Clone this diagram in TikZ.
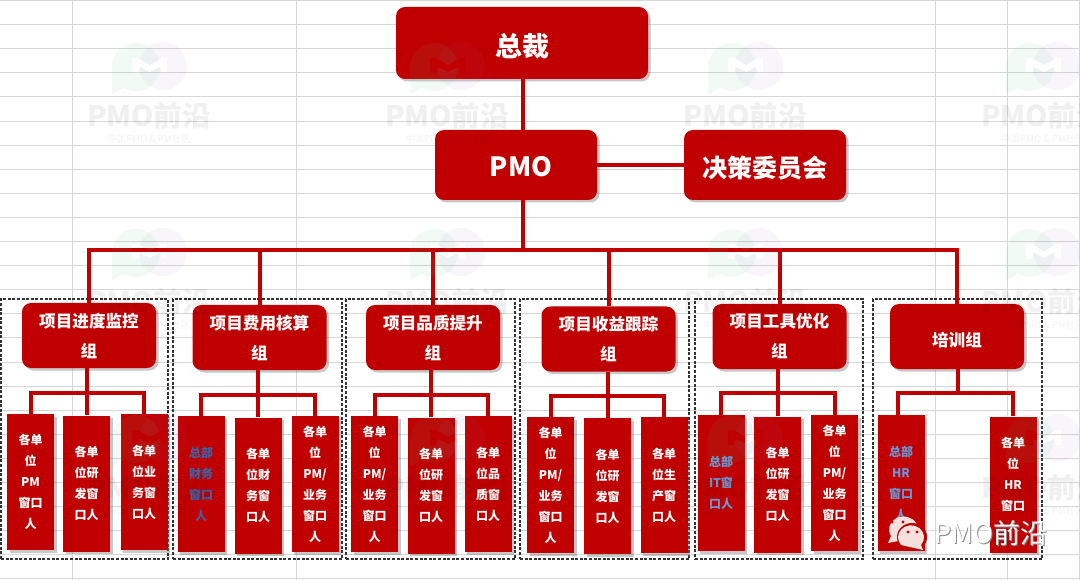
\documentclass[tikz,border=0pt]{standalone}
\usepackage{fontspec}
\setmainfont{Noto Sans CJK SC}
\usepackage{tikz}
\usetikzlibrary{shadows}
\definecolor{orgred}{HTML}{C00000}
\definecolor{hqdark}{HTML}{3F62A6}
\definecolor{hqlight}{HTML}{6C97D6}
\definecolor{sheetline}{HTML}{D6D6D6}
\definecolor{wmgreen}{HTML}{5AC88C}
\definecolor{wmlilac}{HTML}{9664C8}
\definecolor{chatpink}{HTML}{F6E0DE}

\begin{document}
\begin{tikzpicture}[x=1pt, y=-1pt,
    sheet/.style={sheetline, line width=0.9pt},
    link/.style={orgred, line width=4pt},
    redbox/.style={fill=orgred, text=white, inner sep=0pt, align=center, font=\bfseries,
      drop shadow={shadow xshift=2.5pt, shadow yshift=-2.5pt, opacity=0.4, fill=black!55}},
    topbox/.style={redbox, rounded corners=9pt, font=\fontsize{25}{30}\selectfont\bfseries},
    groupnode/.style={redbox, rounded corners=9pt, minimum width=134pt, minimum height=65pt,
      font=\fontsize{16.6}{30}\selectfont\bfseries, execute at begin node={\rule{0pt}{22pt}}},
    leaf/.style={redbox, minimum width=47pt, minimum height=136pt,
      font=\fontsize{12}{21}\selectfont\bfseries, execute at begin node={\rule{0pt}{13pt}}},
    leafdark/.style={leaf, text=hqdark},
    leaflight/.style={leaf, text=hqlight},
    groupframe/.style={draw=black!80, dashed, line width=1.1pt, dash pattern=on 3pt off 1.6pt,
      inner sep=0pt, minimum height=260pt},
    wmtitle/.style={black, opacity=0.06, inner sep=0pt, font=\fontsize{28.5}{30}\selectfont\bfseries},
    wmsub/.style={black, opacity=0.05, inner sep=0pt, font=\fontsize{9.5}{11}\selectfont},
    accountmark/.style={anchor=west, inner sep=0pt, font=\fontsize{27}{30}\selectfont},
    wmlogo/.pic={
      \begin{scope}[even odd rule]
        % the M stays open
        \clip (-45,-35) rectangle (45,35)
          (-18,-10) -- (-12,-10) -- (0,-3) -- (12,-10) -- (17,-10) -- (17,5) -- (12,5)
          -- (10,-1) -- (0,4) -- (-10,-1) -- (-12,5) -- (-18,5) -- cycle;
        \fill[wmgreen, opacity=0.08] (-38,26) -- (-38,-1) arc[start angle=180, end angle=480, radius=24] -- cycle;
        \fill[wmlilac, opacity=0.06] (13,-2) circle[radius=24];
      \end{scope}}]
  \useasboundingbox (0,0) rectangle (1080,580);
  \clip (0,0) rectangle (1080,580);
  \fill[white] (0,0) rectangle (1080,580);
  % spreadsheet behind the chart
  \foreach \k in {0,...,24}
    \draw[sheet] (0,{0.5+24.1*\k}) -- (1080,{0.5+24.1*\k});
  \foreach \x in {72,296,935,1007,1079.5}
    \draw[sheet] (\x,0) -- (\x,580);
  % dashed frames
  \foreach \j/\x/\w in {1/84.5/167, 2/257.5/169, 3/430.5/169, 4/604.5/169, 5/779/168, 6/957.5/169}
    \node[groupframe, minimum width=\w pt] (frame\j) at (\x,429) {};
  % top of the chart
  \node[topbox, minimum width=252pt, minimum height=72pt, font=\fontsize{27}{30}\selectfont\bfseries] (ceo) at (522,43) {\rule{0pt}{29pt}总裁};
  \node[topbox, minimum width=162pt, minimum height=70pt, font=\fontsize{26.5}{30}\selectfont\bfseries] (pmo) at (516,165) {\hspace*{10pt}\rule{0pt}{23pt}PMO};
  \node[topbox, minimum width=162pt, minimum height=70pt] (board) at (765,165) {\rule{0pt}{27pt}决策委员会};
  \coordinate (bus) at (522.5,250);
  \draw[link] (ceo.south -| bus) -- (pmo.north -| bus);
  \draw[link] (pmo.east) -- (board.west);
  % six groups
  \foreach \j/\x/\y/\txt in {1/89/335.5/{项目进度监控\\组}, 2/259.5/337.5/{项目费用核算\\组},
      3/433/337.5/{项目品质提升\\组}, 4/608.5/339/{项目收益跟踪\\组},
      5/779.5/336.5/{项目工具优化\\组}, 6/957/336.5/{培训组}} {
    \node[groupnode] (g\j) at (\x,\y) {\txt};
    \draw[link] (pmo.south -| bus) -- (bus) -| (g\j.north);}
  % unit contacts
  \foreach \n/\x/\y/\sty/\txt in {
      l11/30.5/482/leaf/{各单\\位\\PM\\窗口\\人}, l12/86.5/483.5/leaf/{各单\\位研\\发窗\\口人}, l13/144/482/leaf/{各单\\位业\\务窗\\口人},
      l21/201/484/leafdark/{总部\\财务\\窗口\\人}, l22/258/485.5/leaf/{各单\\位财\\务窗\\口人}, l23/315/484/leaf/{各单\\位\\PM/\\业务\\窗口\\人},
      l31/374.5/484/leaf/{各单\\位\\PM/\\业务\\窗口\\人}, l32/431/485.5/leaf/{各单\\位研\\发窗\\口人}, l33/488/484/leaf/{各单\\位品\\质窗\\口人},
      l41/550.5/485/leaf/{各单\\位\\PM/\\业务\\窗口\\人}, l42/607.5/486/leaf/{各单\\位研\\发窗\\口人}, l43/664/485/leaf/{各单\\位生\\产窗\\口人},
      l51/721/483/leaflight/{总部\\IT窗\\口人}, l52/777.5/484.5/leaf/{各单\\位研\\发窗\\口人}, l53/834.5/483/leaf/{各单\\位\\PM/\\业务\\窗口\\人},
      l61/901/483/leaflight/{总部\\HR\\窗口\\人}, l62/1013/484.5/leaf/{各单\\位\\HR\\窗口\\人}}
    \node[\sty] (\n) at (\x,\y) {\txt};
  \foreach \j/\y in {1/393, 2/395, 3/395, 4/396, 5/393} {
    \coordinate (b\j) at (l\j2.north |- 0,\y);
    \draw[link] (g\j.south -| b\j) -- (l\j2.north);
    \draw[link] (l\j1.north) |- (b\j) -| (l\j3.north);}
  \coordinate (b6) at (958,393);
  \draw[link] (g6.south -| b6) -- (b6);
  \draw[link] ([xshift=-3pt]l61.north) |- (b6) -| (l62.north);
  % watermark over everything
  \foreach \c/\dx in {1/0, 2/298, 3/596, 4/894}
    \foreach \r/\dy in {1/0, 2/186, 3/372} {
      \pic at ({150+\dx},{68+\dy}) {wmlogo};
      \node[wmtitle] (wmt\c\r) at ({149+\dx},{116+\dy}) {PMO前沿};
      \node[wmsub] (wms\c\r) at ({149+\dx},{139+\dy}) {中国PMO \& PM社区};}
  % account mark, white text on a grey shadow
  \fill[chatpink] (888,543) -- (891,536) arc[start angle=150, end angle=400, x radius=14.5, y radius=13] -- cycle;
  \fill[orgred] (912,537) ellipse[x radius=15, y radius=14];
  \fill[chatpink] (923,550) -- (921,545) arc[start angle=40, end angle=-220, x radius=13, y radius=12] -- cycle;
  \foreach \x/\y in {892/522, 903/522, 908/532, 917/532}
    \fill[orgred] (\x,\y) circle[radius=1.6];
  \node[accountmark, gray!90] (accountback) at (935,534) {PMO前沿};
  \node[accountmark, white] (account) at (934,533) {PMO前沿};
\end{tikzpicture}
\end{document}
